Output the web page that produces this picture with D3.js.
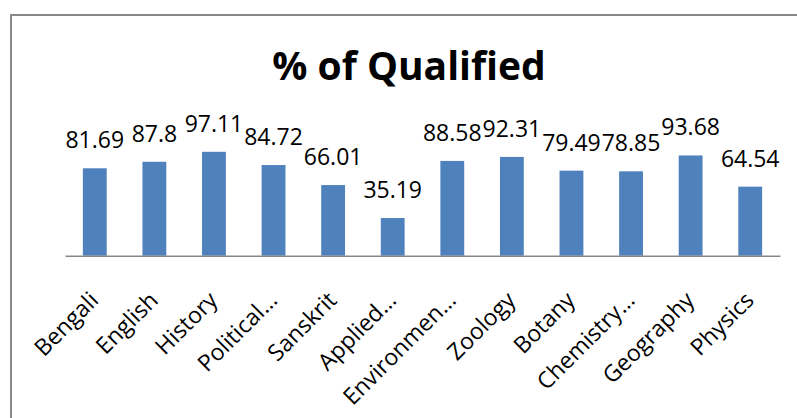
<!DOCTYPE html>
<html><head><meta charset="utf-8">
<script src="https://cdn.jsdelivr.net/npm/d3@7"></script>
<style>body{margin:0;background:#fff}svg{display:block}</style>
</head><body>
<svg id="c" width="797" height="418"></svg>
<script>
const categories = ["Bengali","English","History","Political…","Sanskrit","Applied…","Environmen…","Zoology","Botany","Chemistry…","Geography","Physics"];
const values = [81.69,87.8,97.11,84.72,66.01,35.19,88.58,92.31,79.49,78.85,93.68,64.54];
const labels = ["81.69","87.8","97.11","84.72","66.01","35.19","88.58","92.31","79.49","78.85","93.68","64.54"];
const title = "% of Qualified";

const svg = d3.select("#c");
const font = "'Open Sans', sans-serif";
svg.append("rect").attr("x",11).attr("y",15).attr("width",800).attr("height",420)
  .attr("fill","#fff").attr("stroke","#898989").attr("stroke-width",2);

svg.append("text").attr("x",409).attr("y",80).attr("text-anchor","middle")
  .attr("font-family",font).attr("font-weight","bold").attr("font-size",39).attr("fill","#000").text(title);

const x = d3.scaleBand().domain(categories).range([65,780]).paddingInner(0.6).paddingOuter(0.3);
const y = d3.scaleLinear().domain([0,120]).range([255.7,127.3]);

svg.append("g").selectAll("rect").data(values).join("rect")
  .attr("x",(d,i)=>x(categories[i])).attr("width",x.bandwidth())
  .attr("y",d=>y(d)).attr("height",d=>y(0)-y(d)).attr("fill","#4F81BD");

svg.append("g").selectAll("text").data(values).join("text")
  .attr("x",(d,i)=>x(categories[i])+x.bandwidth()/2).attr("y",d=>y(d)-20)
  .attr("text-anchor","middle").attr("font-family",font).attr("font-size",23).attr("fill","#000")
  .text((d,i)=>labels[i]);

const ax = svg.append("g").attr("transform",`translate(0,${y(0)})`)
  .call(d3.axisBottom(x).tickSize(0).tickFormat(""));
ax.select(".domain").attr("stroke","#878787").attr("stroke-width",1.5);

svg.append("g").selectAll("text").data(categories).join("text")
  .attr("transform",d=>`translate(${x(d)+x.bandwidth()/2+5},${y(0)+46}) rotate(-45)`)
  .attr("text-anchor","end").attr("font-family",font).attr("font-size",23).attr("fill","#000")
  .text(d=>d);
</script>
</body></html>
